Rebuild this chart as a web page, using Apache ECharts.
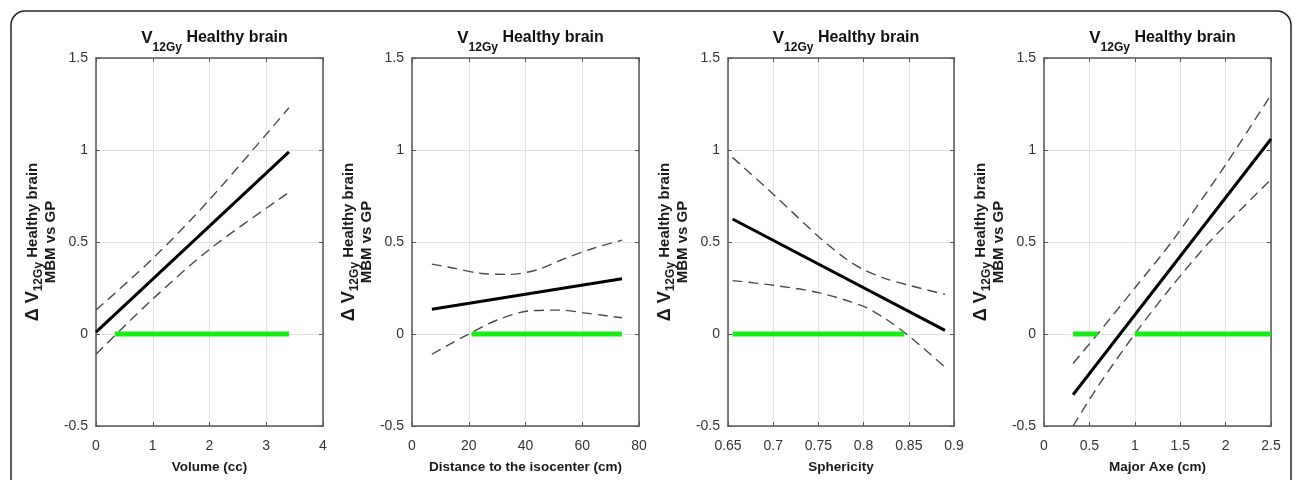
<!DOCTYPE html>
<html>
<head>
<meta charset="utf-8">
<title>V12Gy Healthy brain</title>
<script src="https://cdn.jsdelivr.net/npm/echarts@6/dist/echarts.min.js"></script>
<style>
  html, body { margin: 0; padding: 0; background: #fff; }
  #chart { width: 1296px; height: 480px; }
</style>
</head>
<body>
<div id="chart"></div>
<script>
// Panel x-axes: [min, max, interval] and titles
const xRanges = [[0, 4, 1], [0, 80, 20], [0.65, 0.9, 0.05], [0, 2.5, 0.5]];
const xNames = ['Volume (cc)', 'Distance to the isocenter (cm)', 'Sphericity', 'Major Axe (cm)'];
const yRange = [-0.5, 1.5, 0.5];

// Regression fit (solid) and 95% confidence bounds (dashed) per panel
const fitVolume = [[0, 0.01], [3.4, 0.99]];
const upperVolume = [[0, 0.13], [1, 0.41], [2, 0.73], [3.4, 1.23]];
const lowerVolume = [[0, -0.11], [1, 0.19], [2, 0.46], [3.4, 0.77]];
const sigVolume = [[0.33, 3.4]];

const fitDistance = [[7, 0.135], [74, 0.30]];
const upperDistance = [[7, 0.38], [15, 0.357], [24, 0.33], [34, 0.324], [44, 0.348], [53, 0.405], [64, 0.466], [74, 0.51]];
const lowerDistance = [[7, -0.11], [20, 0], [30, 0.076], [41, 0.125], [52, 0.13], [62, 0.112], [74, 0.088]];
const sigDistance = [[21, 74]];

const fitSphericity = [[0.655, 0.625], [0.89, 0.02]];
const upperSphericity = [[0.655, 0.96], [0.7, 0.76], [0.75, 0.53], [0.78, 0.41], [0.8, 0.35], [0.825, 0.3], [0.85, 0.265], [0.89, 0.215]];
const lowerSphericity = [[0.655, 0.29], [0.7, 0.265], [0.75, 0.225], [0.8, 0.15], [0.825, 0.08], [0.85, -0.01], [0.89, -0.18]];
const sigSphericity = [[0.655, 0.845]];

const fitAxe = [[0.32, -0.33], [2.5, 1.06]];
const upperAxe = [[0.32, -0.16], [0.59, 0], [1.0, 0.25], [1.42, 0.51], [2.0, 0.92], [2.5, 1.30]];
const lowerAxe = [[0.32, -0.5], [0.6, -0.28], [1.0, 0], [1.4, 0.255], [1.84, 0.51], [2.5, 0.84]];
const sigAxe = [[0.32, 0.59], [1.0, 2.5]];

const panels = [
  { fit: fitVolume, upper: upperVolume, lower: lowerVolume, sig: sigVolume },
  { fit: fitDistance, upper: upperDistance, lower: lowerDistance, sig: sigDistance },
  { fit: fitSphericity, upper: upperSphericity, lower: lowerSphericity, sig: sigSphericity },
  { fit: fitAxe, upper: upperAxe, lower: lowerAxe, sig: sigAxe }
];

// Plot-area placement for the four panels
const gridLefts = [96, 412, 728, 1044];
const gridWidths = [227, 227, 226, 227];
const gridTop = 58, gridHeight = 368;

const FONT = '"Liberation Sans", Arial, Helvetica, sans-serif';
const frameColor = '#555';
const ink = '#1a1a1a';

function tok(size, extra) {
  return Object.assign({ fontSize: size, fontWeight: 'bold', fontFamily: FONT, color: ink }, extra);
}

const grids = [], xAxes = [], yAxes = [], series = [], titles = [];

panels.forEach((p, i) => {
  grids.push({ left: gridLefts[i], top: gridTop, width: gridWidths[i], height: gridHeight, containLabel: false });
  const [xmin, xmax, xint] = xRanges[i];
  const common = {
    type: 'value', gridIndex: i,
    axisLine: { show: true, onZero: false, lineStyle: { color: frameColor, width: 1.5 } },
    axisTick: { show: true, inside: true, length: 4, lineStyle: { color: frameColor, width: 1 } }
  };
  xAxes.push(Object.assign({}, common, {
    position: 'bottom', min: xmin, max: xmax, interval: xint,
    axisLabel: { color: '#333', fontSize: 14, fontFamily: FONT, margin: 13 },
    splitLine: { show: true, lineStyle: { color: '#e2e2e2', width: 1 } },
    name: xNames[i], nameLocation: 'middle', nameGap: 34,
    nameTextStyle: { color: ink, fontSize: 13.5, fontWeight: 'bold', fontFamily: FONT }
  }));
  xAxes.push(Object.assign({}, common, {
    position: 'top', min: xmin, max: xmax, interval: xint,
    axisLabel: { show: false }, splitLine: { show: false }
  }));
  yAxes.push(Object.assign({}, common, {
    position: 'left', min: yRange[0], max: yRange[1], interval: yRange[2],
    axisLabel: { color: '#333', fontSize: 14, fontFamily: FONT, margin: 8 },
    splitLine: { show: true, lineStyle: { color: '#e2e2e2', width: 1 } },
    name: '{d|Δ V}{s|12Gy}{h| Healthy brain}\n{m|MBM vs GP}',
    nameLocation: 'middle', nameRotate: 90, nameGap: 29,
    nameTextStyle: {
      fontFamily: FONT, color: ink, fontWeight: 'bold',
      rich: {
        d: tok(18, { height: 16, lineHeight: 16, verticalAlign: 'top' }),
        s: tok(12, { height: 27, lineHeight: 16, verticalAlign: 'top' }),
        h: tok(15, { height: 16, lineHeight: 16, verticalAlign: 'top' }),
        m: tok(15, { height: 19, lineHeight: 19, verticalAlign: 'top' })
      }
    }
  }));
  yAxes.push(Object.assign({}, common, {
    position: 'right', min: yRange[0], max: yRange[1], interval: yRange[2],
    axisLabel: { show: false }, splitLine: { show: false }
  }));

  titles.push({
    text: '{v|V}{s|12Gy}{t| Healthy brain}',
    left: gridLefts[i] + gridWidths[i] / 2, top: 23, textAlign: 'center',
    textStyle: {
      rich: {
        v: tok(17, { height: 20, lineHeight: 20, verticalAlign: 'top', color: '#111' }),
        s: tok(12, { height: 40, lineHeight: 20, verticalAlign: 'top', color: '#111' }),
        t: tok(16, { height: 20, lineHeight: 20, verticalAlign: 'top', color: '#111' })
      }
    }
  });

  const xi = i * 2, yi = i * 2;
  const dashed = { color: '#4a4a4a', width: 1.4, type: [10, 6] };
  series.push({ type: 'line', xAxisIndex: xi, yAxisIndex: yi, data: p.upper, showSymbol: false, symbol: 'none', smooth: 0.3, lineStyle: dashed, z: 3 });
  series.push({ type: 'line', xAxisIndex: xi, yAxisIndex: yi, data: p.lower, showSymbol: false, symbol: 'none', smooth: 0.3, lineStyle: dashed, z: 3 });
  series.push({ type: 'line', xAxisIndex: xi, yAxisIndex: yi, data: p.fit, showSymbol: false, symbol: 'none', lineStyle: { color: '#000', width: 3 }, z: 4 });
  p.sig.forEach(seg => {
    series.push({
      type: 'line', xAxisIndex: xi, yAxisIndex: yi,
      data: [[seg[0], 0], [seg[1], 0]], showSymbol: false, symbol: 'none',
      lineStyle: { color: '#16ec16', width: 5, cap: 'butt' }, z: 5
    });
  });
});

const chart = echarts.init(document.getElementById('chart'), null, { renderer: 'canvas' });
chart.setOption({
  animation: false,
  backgroundColor: '#fff',
  title: titles,
  grid: grids,
  xAxis: xAxes,
  yAxis: yAxes,
  series: series,
  graphic: [{
    type: 'rect', silent: true, z: -1,
    shape: { x: 11, y: 11, width: 1280, height: 540, r: 14 },
    style: { fill: 'none', stroke: '#222', lineWidth: 1.5 }
  }]
});
</script>
</body>
</html>
